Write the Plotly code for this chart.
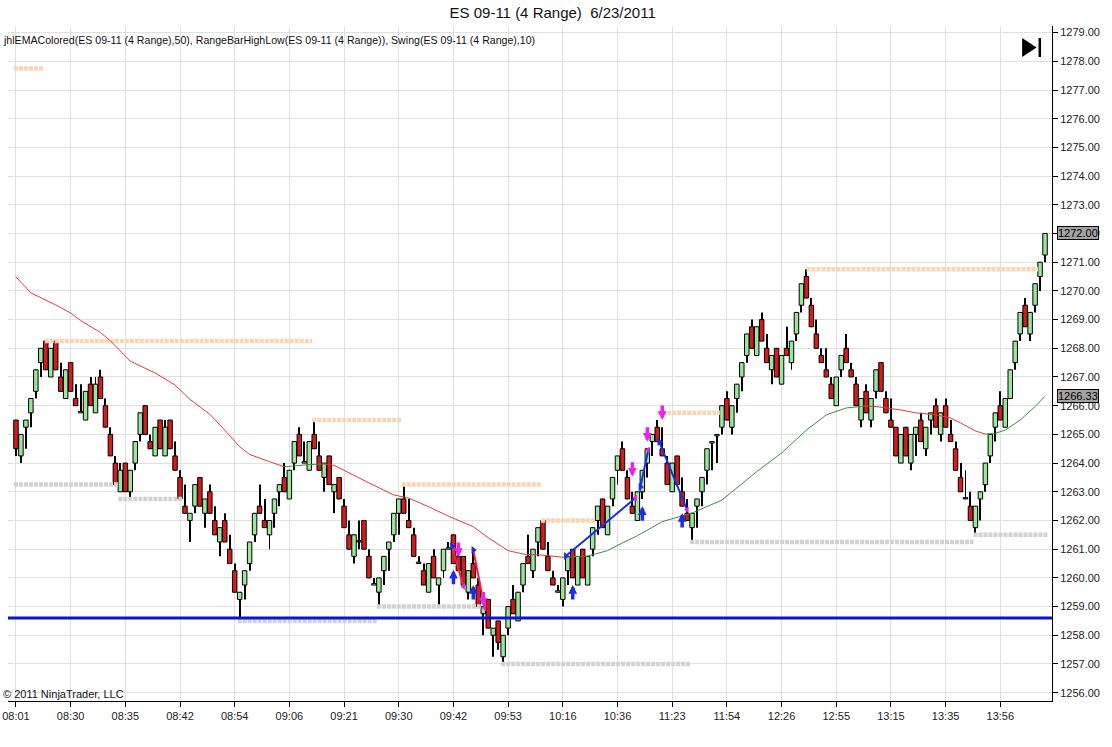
import plotly.graph_objects as go

# ES 09-11 (4 Range) 6/23/2011 - one value per range bar
open_px = [
    1265.5, 1264.25, 1265.25, 1265.75, 1266.5, 1267.5, 1268.25, 1267.0, 1268.25, 1267.0,
    1266.25, 1267.5, 1266.25, 1265.75, 1265.5, 1266.75, 1265.75, 1267.0, 1266.0, 1265.0,
    1264.0, 1263.0, 1264.0, 1263.0, 1264.0, 1265.0, 1266.0, 1264.75, 1264.25, 1265.5,
    1264.25, 1265.5, 1264.25, 1263.5, 1262.5, 1262.0, 1262.5, 1263.5, 1262.25, 1263.0,
    1262.0, 1261.25, 1262.0, 1261.0, 1260.25, 1259.25, 1259.75, 1260.5, 1261.5, 1262.5,
    1262.0, 1261.5, 1262.25, 1263.0, 1263.5, 1262.75, 1264.0, 1265.0, 1264.0, 1263.75,
    1265.0, 1264.25, 1263.5, 1264.25, 1263.0, 1263.5, 1262.5, 1261.5, 1260.75, 1261.3,
    1262.0, 1260.75, 1259.75, 1259.5, 1260.25, 1261.0, 1261.5, 1262.25, 1262.75, 1262.0,
    1261.5, 1260.5, 1260.25, 1259.5, 1260.75, 1259.75, 1260.25, 1261.0, 1261.5, 1260.75,
    1260.75, 1259.5, 1260.5, 1259.75, 1258.75, 1259.25, 1258.0, 1258.5, 1257.25, 1258.25,
    1259.25, 1258.5, 1259.75, 1260.75, 1260.25, 1261.25, 1262.0, 1260.75, 1260.0, 1259.5,
    1259.25, 1260.25, 1261.0, 1259.75, 1261.0, 1259.75, 1261.0, 1262.0, 1262.75, 1261.5,
    1262.75, 1263.75, 1264.5, 1263.5, 1262.5, 1262.0, 1263.0, 1264.0, 1264.75, 1265.25,
    1264.5, 1264.0, 1263.0, 1264.25, 1263.0, 1262.25, 1261.75, 1262.5, 1263.0, 1263.75,
    1264.7, 1264.95, 1265.25, 1266.25, 1265.25, 1266.25, 1267.0, 1267.75, 1268.75, 1267.75,
    1269.0, 1268.0, 1267.25, 1268.0, 1266.75, 1268.0, 1267.5, 1268.5, 1269.5, 1270.5,
    1269.5, 1268.5, 1267.75, 1267.25, 1266.75, 1266.0, 1267.25, 1268.0, 1267.25, 1266.75,
    1265.5, 1266.5, 1265.5, 1266.5, 1267.5, 1266.25, 1265.5, 1265.25, 1264.0, 1265.25,
    1264.0, 1265.0, 1265.5, 1264.5, 1265.5, 1266.0, 1265.0, 1266.0, 1265.0, 1264.5,
    1263.5, 1262.8, 1262.5, 1261.75, 1262.75, 1263.25, 1264.25, 1265.25, 1266.0, 1265.25,
    1266.25, 1267.5, 1268.5, 1269.5, 1268.5, 1269.5, 1270.5, 1271.25,
]
high_px = [
    1265.5, 1265.0, 1265.5, 1266.25, 1267.25, 1268.0, 1268.25, 1268.0, 1268.25, 1267.5,
    1267.25, 1267.5, 1266.75, 1266.75, 1266.5, 1267.0, 1267.0, 1267.25, 1266.25, 1265.25,
    1264.25, 1264.0, 1264.0, 1263.75, 1264.75, 1265.75, 1266.0, 1265.0, 1265.25, 1265.5,
    1265.5, 1265.5, 1264.75, 1263.75, 1263.25, 1262.25, 1263.25, 1263.5, 1262.75, 1263.25,
    1262.5, 1261.75, 1262.25, 1261.5, 1260.5, 1259.5, 1260.25, 1261.25, 1262.25, 1263.25,
    1262.75, 1262.0, 1262.75, 1263.25, 1264.0, 1263.75, 1264.75, 1265.25, 1264.75, 1264.75,
    1265.5, 1264.75, 1264.0, 1264.25, 1263.25, 1263.5, 1262.75, 1262.0, 1261.5, 1262.0,
    1262.0, 1261.0, 1260.0, 1260.0, 1260.75, 1261.25, 1262.25, 1262.75, 1263.25, 1262.75,
    1261.75, 1260.75, 1260.5, 1260.5, 1261.0, 1260.0, 1261.0, 1261.25, 1261.5, 1261.0,
    1260.75, 1260.25, 1261.0, 1260.0, 1259.0, 1259.25, 1258.25, 1258.5, 1258.0, 1259.0,
    1259.75, 1259.5, 1260.5, 1261.5, 1261.0, 1261.75, 1262.0, 1261.25, 1260.25, 1259.75,
    1260.0, 1260.75, 1261.0, 1260.75, 1261.0, 1260.75, 1261.75, 1262.5, 1262.75, 1262.5,
    1263.5, 1264.25, 1264.75, 1263.75, 1263.0, 1263.0, 1263.75, 1264.5, 1265.0, 1265.5,
    1265.25, 1264.25, 1264.0, 1264.25, 1263.5, 1262.75, 1262.25, 1262.75, 1263.5, 1264.5,
    1264.75, 1265.0, 1266.0, 1266.5, 1266.0, 1266.75, 1267.5, 1268.5, 1269.0, 1268.75,
    1269.25, 1268.5, 1267.75, 1268.0, 1267.75, 1268.75, 1268.25, 1269.25, 1270.25, 1270.75,
    1269.75, 1269.0, 1268.0, 1268.0, 1267.0, 1267.0, 1267.75, 1268.5, 1267.5, 1267.0,
    1266.25, 1266.75, 1266.25, 1267.25, 1267.5, 1266.5, 1266.25, 1265.25, 1265.0, 1265.25,
    1265.0, 1265.25, 1265.75, 1265.25, 1265.75, 1266.25, 1265.75, 1266.25, 1265.5, 1264.75,
    1264.0, 1263.75, 1263.0, 1262.5, 1263.0, 1264.0, 1265.0, 1265.75, 1266.5, 1266.25,
    1267.25, 1268.25, 1269.25, 1269.75, 1269.25, 1270.25, 1271.0, 1272.0,
]
low_px = [
    1264.25, 1264.0, 1264.5, 1265.25, 1266.25, 1267.0, 1267.25, 1267.0, 1267.25, 1266.5,
    1266.25, 1266.5, 1266.0, 1265.75, 1265.5, 1266.0, 1265.75, 1266.25, 1265.25, 1264.25,
    1263.25, 1263.0, 1263.0, 1262.75, 1263.75, 1264.75, 1265.0, 1264.5, 1264.25, 1264.5,
    1264.25, 1264.5, 1263.75, 1262.75, 1262.25, 1261.25, 1262.25, 1262.5, 1261.75, 1262.25,
    1261.5, 1260.75, 1261.25, 1260.5, 1259.5, 1258.5, 1259.25, 1260.25, 1261.25, 1262.25,
    1261.75, 1261.0, 1261.75, 1262.5, 1263.0, 1262.75, 1263.75, 1264.25, 1264.0, 1263.75,
    1264.5, 1263.75, 1263.0, 1263.25, 1262.25, 1262.75, 1261.75, 1261.0, 1260.5, 1261.0,
    1261.0, 1260.0, 1259.75, 1259.0, 1259.75, 1260.25, 1261.25, 1261.5, 1262.25, 1261.75,
    1260.75, 1260.5, 1259.75, 1259.5, 1260.0, 1259.0, 1260.0, 1261.0, 1260.5, 1260.25,
    1259.75, 1259.25, 1260.0, 1259.0, 1258.0, 1258.25, 1257.25, 1257.5, 1257.0, 1258.0,
    1258.75, 1258.5, 1259.5, 1260.5, 1260.0, 1260.75, 1261.0, 1260.25, 1259.75, 1259.5,
    1259.0, 1259.75, 1260.0, 1259.75, 1260.0, 1259.75, 1260.75, 1261.5, 1261.75, 1261.5,
    1262.5, 1263.25, 1263.75, 1262.75, 1262.25, 1262.0, 1262.75, 1263.5, 1264.25, 1264.75,
    1264.25, 1263.25, 1263.0, 1263.25, 1262.5, 1262.0, 1261.25, 1261.75, 1262.5, 1263.25,
    1263.75, 1264.0, 1265.0, 1265.5, 1265.0, 1265.75, 1266.5, 1267.5, 1268.0, 1267.75,
    1268.25, 1267.5, 1266.75, 1267.0, 1266.75, 1267.75, 1267.25, 1268.25, 1269.25, 1269.75,
    1268.75, 1268.0, 1267.5, 1267.0, 1266.25, 1266.0, 1267.0, 1267.5, 1267.0, 1266.0,
    1265.25, 1265.75, 1265.25, 1266.25, 1266.5, 1265.75, 1265.25, 1264.25, 1264.0, 1264.25,
    1263.75, 1264.25, 1264.75, 1264.25, 1265.0, 1265.25, 1264.75, 1265.25, 1264.75, 1263.75,
    1263.0, 1262.75, 1262.0, 1261.5, 1262.0, 1263.0, 1264.0, 1264.75, 1265.5, 1265.25,
    1266.25, 1267.25, 1268.25, 1268.75, 1268.25, 1269.25, 1270.0, 1271.0,
]
close_px = [
    1264.5, 1265.0, 1265.5, 1266.25, 1267.25, 1268.0, 1267.25, 1268.0, 1267.25, 1266.5,
    1267.25, 1266.5, 1266.0, 1265.8, 1266.5, 1266.0, 1266.75, 1266.25, 1265.25, 1264.25,
    1263.25, 1263.75, 1263.0, 1263.75, 1264.75, 1265.75, 1265.0, 1264.5, 1265.25, 1264.5,
    1265.25, 1264.5, 1263.75, 1262.75, 1262.25, 1262.25, 1263.25, 1262.5, 1262.75, 1262.25,
    1261.5, 1261.75, 1261.25, 1260.5, 1259.5, 1259.5, 1260.25, 1261.25, 1262.25, 1262.25,
    1261.75, 1262.0, 1262.75, 1263.25, 1263.0, 1263.75, 1264.75, 1264.25, 1264.05, 1264.75,
    1264.5, 1263.75, 1264.0, 1263.25, 1263.25, 1262.75, 1261.75, 1261.0, 1261.5, 1261.25,
    1261.0, 1260.0, 1259.8, 1260.0, 1260.75, 1261.25, 1262.25, 1262.75, 1262.25, 1261.75,
    1260.75, 1260.55, 1259.75, 1260.5, 1260.0, 1260.0, 1261.0, 1261.05, 1260.5, 1260.25,
    1259.75, 1260.25, 1260.0, 1259.0, 1259.0, 1258.25, 1258.25, 1257.75, 1258.0, 1259.0,
    1258.75, 1259.5, 1260.5, 1260.5, 1261.0, 1261.75, 1261.0, 1260.25, 1259.75, 1259.55,
    1260.0, 1260.75, 1260.0, 1260.75, 1260.0, 1260.75, 1261.75, 1262.5, 1261.75, 1262.5,
    1263.5, 1264.25, 1263.75, 1262.75, 1262.25, 1263.0, 1263.75, 1264.5, 1265.0, 1264.75,
    1264.25, 1263.25, 1264.0, 1263.25, 1262.5, 1262.0, 1262.25, 1262.75, 1263.5, 1264.5,
    1264.75, 1265.0, 1266.0, 1265.5, 1266.0, 1266.75, 1267.5, 1268.5, 1268.0, 1268.75,
    1268.25, 1267.5, 1267.75, 1267.0, 1267.75, 1267.75, 1268.25, 1269.25, 1270.25, 1269.75,
    1268.75, 1268.0, 1267.5, 1267.0, 1266.25, 1267.0, 1267.75, 1267.5, 1267.0, 1266.0,
    1266.25, 1265.75, 1266.25, 1267.25, 1266.5, 1265.75, 1265.25, 1264.25, 1265.0, 1264.25,
    1265.0, 1265.25, 1264.75, 1265.25, 1265.75, 1265.25, 1265.75, 1265.25, 1264.75, 1263.75,
    1263.0, 1262.75, 1262.0, 1262.5, 1263.0, 1264.0, 1265.0, 1265.75, 1265.5, 1266.25,
    1267.25, 1268.25, 1269.25, 1268.75, 1269.25, 1270.25, 1271.0, 1272.0,
]

tick_pos = [0, 11, 22, 33, 44, 55, 66, 77, 88, 99, 110, 121, 132, 143, 154, 165, 176, 187, 198]
tick_text = ["08:01", "08:30", "08:35", "08:42", "08:54", "09:06", "09:21", "09:30", "09:42", "09:53",
             "10:16", "10:36", "11:23", "11:54", "12:26", "12:55", "13:15", "13:35", "13:56"]

# jhlEMAColored(50) read at some bars
ema_pos = [0, 3, 8, 11, 13, 17, 19, 23, 28, 32, 35, 39, 42, 45, 47, 51, 54, 59, 62, 64,
           71, 76, 79, 83, 87, 92, 95, 99, 102, 106, 110, 115, 119, 122, 125, 130, 136, 142, 149, 154,
           159, 163, 167, 171, 173, 178, 181, 185, 188, 190, 193, 195, 197, 199, 202, 205, 207]
ema_val = [1270.49, 1269.93, 1269.51, 1269.23, 1268.97, 1268.55, 1268.26, 1267.55, 1267.14, 1266.72,
           1266.22, 1265.70, 1265.15, 1264.57, 1264.30, 1264.05, 1263.87, 1263.95, 1263.97, 1263.92,
           1263.31, 1262.89, 1262.78, 1262.48, 1262.15, 1261.78, 1261.40, 1260.95, 1260.83, 1260.79,
           1260.72, 1260.76, 1260.95, 1261.22, 1261.47, 1261.96, 1262.26, 1262.71, 1263.70, 1264.35,
           1265.15, 1265.68, 1265.92, 1265.99, 1265.97, 1265.85, 1265.75, 1265.68, 1265.57, 1265.40,
           1265.12, 1265.01, 1265.04, 1265.15, 1265.50, 1265.97, 1266.33]

# RangeBarHighLow levels
high_level = [1277.75, 1268.25, 1265.5, 1263.25, 1262.0, 1265.75, 1270.75]
high_from = [-0.4, 5.8, 59.6, 77.6, 105.6, 129.0, 159.0]
high_to = [5.6, 59.6, 77.6, 105.6, 116.6, 141.6, 205.6]
low_level = [1263.25, 1262.75, 1258.5, 1259.0, 1257.0, 1261.25, 1261.5]
low_from = [-0.4, 20.6, 44.6, 72.6, 97.6, 135.6, 192.6]
low_to = [20.6, 33.4, 72.6, 93.6, 135.6, 192.6, 207.6]

support_level = 1258.6

# swing lines
swing_x0 = [87.7, 92.0, 110.6, 125.6, 129.4]
swing_y0 = [1261.1, 1260.97, 1260.76, 1263.17, 1264.74]
swing_x1 = [90.0, 94.3, 124.6, 127.2, 135.0]
swing_y1 = [1259.7, 1258.95, 1262.78, 1264.46, 1262.37]
swing_kind = ["down", "down", "up", "up", "down2"]

# swing arrows (tip positions)
arrow_dn_x = [89, 94, 124, 127, 130]
arrow_dn_y = [1260.73, 1259.0, 1263.52, 1264.74, 1265.5]
arrow_up_x = [88, 92, 112, 126, 134]
arrow_up_y = [1260.28, 1259.75, 1259.75, 1262.5, 1262.26]

last_price = 1272.00
ema_last = 1266.33

FONT = "Liberation Sans, Arial, sans-serif"
UP = "#9be69b"
DOWN = "#d41c1c"
PINK = "#f020f0"
BLUE = "#1a2ee6"

bars = list(range(len(close_px)))
fig = go.Figure()

# wicks
fig.add_trace(go.Bar(x=bars, y=[h - l for h, l in zip(high_px, low_px)], base=low_px, width=0.2,
                     marker=dict(color="black", line=dict(width=0)), hoverinfo="skip"))
# bodies
fig.add_trace(go.Bar(x=bars, y=[abs(c - o) for o, c in zip(open_px, close_px)],
                     base=[min(o, c) for o, c in zip(open_px, close_px)], width=0.9,
                     marker=dict(color=[UP if c >= o else DOWN for o, c in zip(open_px, close_px)],
                                 line=dict(color="black", width=1))))


def level_xy(levels, starts, ends):
    xs, ys = [], []
    for lv, a, b in zip(levels, starts, ends):
        xs += [a, b, None]
        ys += [lv, lv, None]
    return xs, ys


hx, hy = level_xy(high_level, high_from, high_to)
lx, ly = level_xy(low_level, low_from, low_to)
fig.add_trace(go.Scatter(x=hx, y=hy, mode="lines", line=dict(color="#f9d5b6", width=4.5, dash="4px,1px")))
fig.add_trace(go.Scatter(x=lx, y=ly, mode="lines", line=dict(color="#d2d2d2", width=4.5, dash="4px,1px")))

# EMA coloured by slope
for col, rising in (("#e23a3a", False), ("#3d8f3d", True)):
    xs, ys = [], []
    for k in range(len(ema_val) - 1):
        if (ema_val[k + 1] > ema_val[k]) == rising:
            xs += [ema_pos[k], ema_pos[k + 1], None]
            ys += [ema_val[k], ema_val[k + 1], None]
    fig.add_trace(go.Scatter(x=xs, y=ys, mode="lines", line=dict(color=col, width=1)))

# swing lines
for kind, col in (("down", "#e8204c"), ("up", BLUE), ("down2", BLUE)):
    xs, ys = [], []
    for x0, y0, x1, y1, k in zip(swing_x0, swing_y0, swing_x1, swing_y1, swing_kind):
        if k == kind:
            xs += [x0, x1, None]
            ys += [y0, y1, None]
    fig.add_trace(go.Scatter(x=xs, y=ys, mode="lines", line=dict(color=col, width=2)))
fig.add_trace(go.Scatter(x=swing_x0, y=swing_y0, mode="markers",
                         marker=dict(symbol="triangle-right", size=7, color=BLUE)))
fig.add_trace(go.Scatter(x=swing_x1, y=swing_y1, mode="markers",
                         marker=dict(symbol="triangle-left", size=6, color=PINK)))

# price markers on the axis
fig.add_trace(go.Scatter(x=[209.5, 209.5], y=[last_price, ema_last], mode="markers", cliponaxis=False,
                         marker=dict(symbol="triangle-left", size=11, color="#a3a3a3",
                                     line=dict(color="black", width=1))))

fig.add_hline(y=support_level, line=dict(color="#0a16c8", width=3))

annotations = []
for x, y in zip(arrow_dn_x, arrow_dn_y):
    annotations.append(dict(x=x, y=y, xref="x", yref="y", text="", showarrow=True, ax=0, ay=-16,
                            arrowhead=2, arrowsize=0.5, arrowwidth=3.5, arrowcolor=PINK))
for x, y in zip(arrow_up_x, arrow_up_y):
    annotations.append(dict(x=x, y=y, xref="x", yref="y", text="", showarrow=True, ax=0, ay=16,
                            arrowhead=2, arrowsize=0.5, arrowwidth=3.5, arrowcolor=BLUE))
for y, txt in ((last_price, "1272.00"), (ema_last, "1266.33")):
    annotations.append(dict(x=1.0052, y=y, xref="paper", yref="y", xanchor="left", yanchor="middle",
                            text=txt, showarrow=False, bgcolor="#a3a3a3", bordercolor="black",
                            borderwidth=1, borderpad=0, font=dict(family=FONT, size=11, color="black")))
annotations.append(dict(x=-0.007, y=0.979, xref="paper", yref="paper", xanchor="left", yanchor="middle",
                        showarrow=False, font=dict(family=FONT, size=10.6, color="#111"),
                        text="jhlEMAColored(ES 09-11 (4 Range),50), RangeBarHighLow(ES 09-11 (4 Range)), "
                             "Swing(ES 09-11 (4 Range),10)"))
annotations.append(dict(x=-0.007, y=0.011, xref="paper", yref="paper", xanchor="left", yanchor="middle",
                        showarrow=False, text="© 2011 NinjaTrader, LLC",
                        font=dict(family=FONT, size=11, color="#111")))

shapes = [
    # outer frame
    dict(type="rect", xref="paper", yref="paper", x0=-0.0014, x1=1.0557, y0=-0.0659, y1=1.0,
         line=dict(color="black", width=1)),
    # go-to-end icon
    dict(type="path", xref="paper", yref="paper", path="M 0.9714,0.9822 L 0.9714,0.9541 L 0.9852,0.9681 Z",
         fillcolor="black", line=dict(width=0)),
    dict(type="rect", xref="paper", yref="paper", x0=0.9871, x1=0.9895, y0=0.9541, y1=0.9822,
         fillcolor="black", line=dict(width=0)),
]

fig.update_layout(
    width=1112, height=747,
    margin=dict(l=2, r=60, t=26, b=46),
    paper_bgcolor="white", plot_bgcolor="white",
    showlegend=False, barmode="overlay",
    font=dict(family=FONT, size=11, color="#222"),
    title=dict(text="ES 09-11 (4 Range)\u00a0 6/23/2011", x=0.497, xanchor="center", y=0.9826,
               yanchor="middle", font=dict(family=FONT, size=15, color="#111")),
    annotations=annotations,
    shapes=shapes,
    xaxis=dict(range=[-1.6, 208.4], tickmode="array", tickvals=tick_pos, ticktext=tick_text,
               ticks="outside", ticklen=5, tickcolor="black", showgrid=True, gridcolor="#e0e0e0",
               showline=True, linecolor="black", linewidth=1, zeroline=False,
               ticklabeloverflow="allow", tickfont=dict(family=FONT, size=11, color="#222")),
    yaxis=dict(range=[1255.71, 1279.23], side="right", dtick=1, tick0=1256, tickformat=".2f",
               ticks="outside", ticklen=5, tickcolor="black", showgrid=True, gridcolor="#e0e0e0",
               showline=True, linecolor="black", linewidth=1, zeroline=False,
               tickfont=dict(family=FONT, size=11, color="#222")),
)

# page has a default body margin; drop it so the figure sits at the window corner
fig.write_html("out.html", config={"displayModeBar": False},
               post_script="document.body.style.margin='0';")
